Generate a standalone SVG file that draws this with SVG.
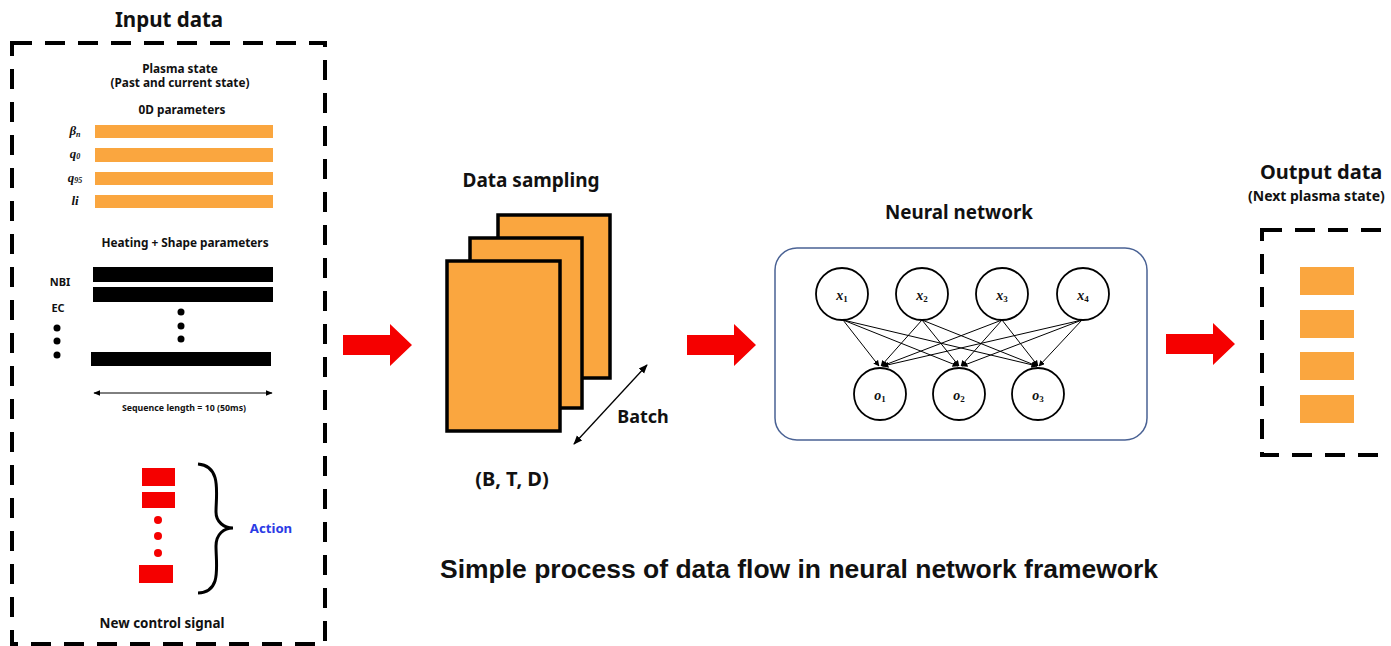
<svg xmlns="http://www.w3.org/2000/svg" width="1391" height="646" viewBox="0 0 1391 646">
<style>
.t{font-family:"Noto Sans","Liberation Sans",sans-serif;font-weight:bold;fill:#111;text-anchor:middle}
.m{font-family:"Liberation Serif",serif;font-style:italic;fill:#111;text-anchor:middle}
.dash{fill:none;stroke:#000;stroke-width:4;stroke-dasharray:20 13}
.or{fill:#FAA63F}
.bk{fill:#000}
.rd{fill:#F50000}
.pg{fill:#FAA63F;stroke:#000;stroke-width:3.5}
.nd{fill:#fff;stroke:#000;stroke-width:1.8}
.ed{stroke:#000;stroke-width:1;fill:none;marker-end:url(#ah)}
</style>
<defs>
<marker id="ah" viewBox="0 0 10 10" refX="9" refY="5" markerWidth="6" markerHeight="6" orient="auto"><path d="M0,0 L10,5 L0,10 z" fill="#000"/></marker>
<marker id="sa" viewBox="0 0 10 10" refX="9" refY="5" markerWidth="7" markerHeight="7" orient="auto-start-reverse"><path d="M0,1 L10,5 L0,9 z" fill="#000"/></marker>
<path id="redarrow" d="M0,-10 H47 V-21 L69,0 L47,21 V10 H0 z" fill="#F50000"/>
</defs>
<rect width="1391" height="646" fill="#fff"/>

<g id="input-data">
<text class="t" x="169" y="27" font-size="20.5">Input data</text>
<rect class="dash" x="12" y="43" width="313" height="601"/>
<text class="t" x="180" y="73" font-size="11.8">Plasma state</text>
<text class="t" x="180" y="87" font-size="11.8">(Past and current state)</text>
<text class="t" x="182" y="114" font-size="11.8">0D parameters</text>
<rect class="or" x="95" y="125" width="178" height="13"/>
<rect class="or" x="95" y="148" width="178" height="14"/>
<rect class="or" x="95" y="172" width="178" height="13"/>
<rect class="or" x="95" y="195" width="178" height="13"/>
<text class="m" x="75" y="135" font-size="13" font-weight="bold">β<tspan font-size="8" dy="2">n</tspan></text>
<text class="m" x="75" y="158" font-size="13" font-weight="bold">q<tspan font-size="8" dy="1">0</tspan></text>
<text class="m" x="75" y="182" font-size="13" font-weight="bold">q<tspan font-size="8" dy="1">95</tspan></text>
<text class="m" x="75" y="205" font-size="13" font-weight="bold">li</text>
<text class="t" x="185" y="247" font-size="11.8">Heating + Shape parameters</text>
<rect class="bk" x="93" y="267" width="180" height="15"/>
<rect class="bk" x="93" y="287" width="180" height="15"/>
<rect class="bk" x="91" y="352" width="180" height="14"/>
<circle class="bk" cx="181" cy="312" r="3.5"/>
<circle class="bk" cx="181" cy="326" r="3.5"/>
<circle class="bk" cx="181" cy="339" r="3.5"/>
<text class="t" x="60" y="286" font-size="11">NBI</text>
<text class="t" x="58" y="312" font-size="11">EC</text>
<circle class="bk" cx="57" cy="328" r="3.5"/>
<circle class="bk" cx="57" cy="341" r="3.5"/>
<circle class="bk" cx="57" cy="355" r="3.5"/>
<line x1="94" y1="393" x2="272" y2="393" stroke="#000" stroke-width="1" marker-start="url(#sa)" marker-end="url(#sa)"/>
<text class="t" x="184" y="411" font-size="8.8">Sequence length = 10 (50ms)</text>
<rect class="rd" x="142" y="468" width="33" height="18"/>
<rect class="rd" x="142" y="492" width="33" height="16"/>
<circle class="rd" cx="158" cy="520" r="4"/>
<circle class="rd" cx="158" cy="536" r="4"/>
<circle class="rd" cx="158" cy="553" r="4"/>
<rect class="rd" x="139" y="565" width="34" height="18"/>
<path d="M198,464 C222,466 216,494 216,512 C216,522 224,528 233,528 C224,528 216,534 216,546 C216,566 222,592 198,593" fill="none" stroke="#000" stroke-width="3"/>
<text class="t" x="271" y="533" font-size="13.2" style="fill:#2B3BE5">Action</text>
<text class="t" x="162" y="628" font-size="13.4">New control signal</text>
</g>

<g id="connectors">
<use href="#redarrow" x="343" y="345"/>
<use href="#redarrow" x="687" y="345"/>
<use href="#redarrow" x="1166" y="344"/>
</g>

<g id="data-sampling">
<text class="t" x="531" y="187" font-size="19">Data sampling</text>
<rect class="pg" x="498" y="215" width="112" height="163"/>
<rect class="pg" x="470" y="238" width="112" height="170"/>
<rect class="pg" x="447" y="261" width="113" height="170"/>
<line x1="574" y1="444" x2="647" y2="365" stroke="#000" stroke-width="1.3" marker-start="url(#sa)" marker-end="url(#sa)"/>
<text class="t" x="643" y="423" font-size="18">Batch</text>
<text class="t" x="512" y="486" font-size="20">(B, T, D)</text>
</g>

<g id="neural-network">
<text class="t" x="959" y="219" font-size="18.8">Neural network</text>
<rect x="775" y="248" width="372" height="192" rx="22" fill="#fff" stroke="#4A6294" stroke-width="1.5"/>
<g>
<line class="ed" x1="843" y1="320" x2="879" y2="366"/>
<line class="ed" x1="843" y1="320" x2="958" y2="366"/>
<line class="ed" x1="843" y1="320" x2="1037" y2="366"/>
<line class="ed" x1="922" y1="320" x2="881" y2="366"/>
<line class="ed" x1="922" y1="320" x2="959" y2="366"/>
<line class="ed" x1="922" y1="320" x2="1037" y2="366"/>
<line class="ed" x1="1002" y1="320" x2="882" y2="366"/>
<line class="ed" x1="1002" y1="320" x2="961" y2="366"/>
<line class="ed" x1="1002" y1="320" x2="1038" y2="366"/>
<line class="ed" x1="1082" y1="320" x2="883" y2="366"/>
<line class="ed" x1="1082" y1="320" x2="962" y2="366"/>
<line class="ed" x1="1082" y1="320" x2="1039" y2="366"/>
</g>
<circle class="nd" cx="842" cy="294" r="26"/>
<circle class="nd" cx="922" cy="294" r="26"/>
<circle class="nd" cx="1002" cy="294" r="26"/>
<circle class="nd" cx="1083" cy="294" r="26"/>
<circle class="nd" cx="880" cy="394" r="26"/>
<circle class="nd" cx="959" cy="394" r="26"/>
<circle class="nd" cx="1038" cy="394" r="26"/>
<text class="m" x="842" y="300" font-size="14" font-weight="bold">x<tspan font-size="9" dy="2" font-style="normal">1</tspan></text>
<text class="m" x="922" y="300" font-size="14" font-weight="bold">x<tspan font-size="9" dy="2" font-style="normal">2</tspan></text>
<text class="m" x="1002" y="300" font-size="14" font-weight="bold">x<tspan font-size="9" dy="2" font-style="normal">3</tspan></text>
<text class="m" x="1083" y="300" font-size="14" font-weight="bold">x<tspan font-size="9" dy="2" font-style="normal">4</tspan></text>
<text class="m" x="880" y="400" font-size="14" font-weight="bold">o<tspan font-size="9" dy="2" font-style="normal">1</tspan></text>
<text class="m" x="959" y="400" font-size="14" font-weight="bold">o<tspan font-size="9" dy="2" font-style="normal">2</tspan></text>
<text class="m" x="1038" y="400" font-size="14" font-weight="bold">o<tspan font-size="9" dy="2" font-style="normal">3</tspan></text>
</g>

<g id="output-data">
<text class="t" x="1260" y="179" font-size="20" style="text-anchor:start">Output data</text>
<text class="t" x="1248" y="201" font-size="14" style="text-anchor:start">(Next plasma state)</text>
<rect class="dash" x="1262" y="230" width="160" height="225"/>
<rect class="or" x="1300" y="267" width="54" height="28"/>
<rect class="or" x="1300" y="310" width="54" height="28"/>
<rect class="or" x="1300" y="352" width="54" height="28"/>
<rect class="or" x="1300" y="395" width="54" height="28"/>
</g>

<g id="caption">
<text x="440" y="578" font-family="Liberation Sans, Arial, sans-serif" font-weight="bold" font-size="26" fill="#111" textLength="718" lengthAdjust="spacingAndGlyphs">Simple process of data flow in neural network framework</text>
</g>
</svg>
